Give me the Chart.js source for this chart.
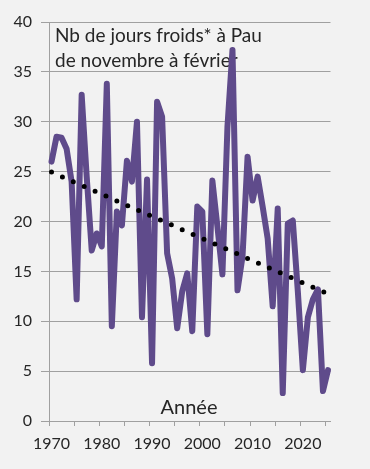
<!DOCTYPE html>
<html>
<head>
<meta charset="utf-8">
<script src="https://cdn.jsdelivr.net/npm/chart.js@4.4.1/dist/chart.umd.min.js"></script>
<style>
  html, body { margin: 0; padding: 0; background: #f2f2f2; }
  #wrap { width: 370px; height: 469px; position: relative; }
</style>
</head>
<body>
<div id="wrap"><canvas id="chart"></canvas></div>
<script>
// Winters (Nov -> Feb) at Pau
const years = [1970, 1971, 1972, 1973, 1974, 1975, 1976, 1977, 1978, 1979,
  1980, 1981, 1982, 1983, 1984, 1985, 1986, 1987, 1988, 1989,
  1990, 1991, 1992, 1993, 1994, 1995, 1996, 1997, 1998, 1999,
  2000, 2001, 2002, 2003, 2004, 2005, 2006, 2007, 2008, 2009,
  2010, 2011, 2012, 2013, 2014, 2015, 2016, 2017, 2018, 2019,
  2020, 2021, 2022, 2023, 2024, 2025];
const coldDays = [26.0, 28.5, 28.4, 27.3, 24.0, 12.2, 32.7, 24.5, 17.1, 18.8,
  17.5, 33.8, 9.5, 21.0, 19.6, 26.1, 24.0, 30.0, 10.4, 24.2,
  5.8, 32.0, 30.5, 16.8, 14.3, 9.3, 13.0, 14.8, 9.0, 21.5,
  21.0, 8.7, 24.1, 19.5, 14.7, 29.5, 37.2, 13.1, 16.5, 26.5,
  22.1, 24.5, 21.5, 18.3, 11.5, 21.3, 2.8, 19.8, 20.1, 13.0,
  5.1, 10.4, 12.2, 13.2, 3.0, 5.1];
// linear trend, first and last year
const trendStart = 24.95;
const trendEnd = 12.75;
const titleLines = ['Nb de jours froids* à Pau', 'de novembre à février'];
const xTitle = 'Année';

const gridColor = '#a0a0a0';
const textColor = '#262626';
const font = 'Lato, "Liberation Sans", sans-serif';

const trend = years.map((y, i) => i === 0 ? trendStart : (i === years.length - 1 ? trendEnd : null));

// text drawn inside the plot, under the lines
const innerText = {
  id: 'innerText',
  beforeDatasetsDraw(chart) {
    const c = chart.ctx;
    const area = chart.chartArea;
    c.save();
    c.fillStyle = textColor;
    c.font = '19px ' + font;
    c.textAlign = 'left';
    c.textBaseline = 'alphabetic';
    c.fillText(titleLines[0], area.left + 6, 41.5);
    c.fillText(titleLines[1], area.left + 6, 66.5);
    c.textAlign = 'center';
    c.font = '20px ' + font;
    c.fillText(xTitle, 189, 414);
    c.restore();
  }
};

new Chart(document.getElementById('chart'), {
  type: 'line',
  data: {
    labels: years,
    datasets: [
      {
        label: 'Tendance',
        data: trend,
        spanGaps: true,
        borderColor: '#000000',
        borderWidth: 5,
        borderDash: [0, 11.9],
        borderCapStyle: 'round',
        pointRadius: 0,
        order: 0
      },
      {
        label: 'Jours froids',
        data: coldDays,
        borderColor: '#5f4b8b',
        borderWidth: 6,
        borderJoinStyle: 'round',
        borderCapStyle: 'round',
        pointRadius: 0,
        tension: 0,
        order: 1
      }
    ]
  },
  options: {
    responsive: true, maintainAspectRatio: false,
    animation: false,
    layout: { padding: { left: 0, right: 39.5, top: 22, bottom: 0 } },
    plugins: { legend: { display: false }, tooltip: { enabled: false } },
    scales: {
      x: {
        type: 'category',
        offset: true,
        afterFit: s => { s.height = 48; },
        grid: {
          offset: true,
          drawOnChartArea: false,
          tickLength: 5,
          color: ctx => (ctx.index % 5 === 0 ? gridColor : 'transparent')
        },
        border: { color: gridColor, width: 1 },
        ticks: {
          autoSkip: false, maxRotation: 0, minRotation: 0,
          padding: 8,
          color: textColor,
          font: { family: font, size: 16 },
          callback: (v, i) => (years[i] % 10 === 0 ? String(years[i]) : '')
        }
      },
      y: {
        min: 0, max: 40,
        afterFit: s => { s.width = 49; },
        grid: { color: gridColor, lineWidth: 1, tickLength: 8 },
        border: { color: gridColor, width: 1 },
        ticks: {
          stepSize: 5,
          padding: 9,
          color: textColor,
          font: { family: font, size: 16 }
        }
      }
    }
  },
  plugins: [innerText]
});
</script>
</body>
</html>
